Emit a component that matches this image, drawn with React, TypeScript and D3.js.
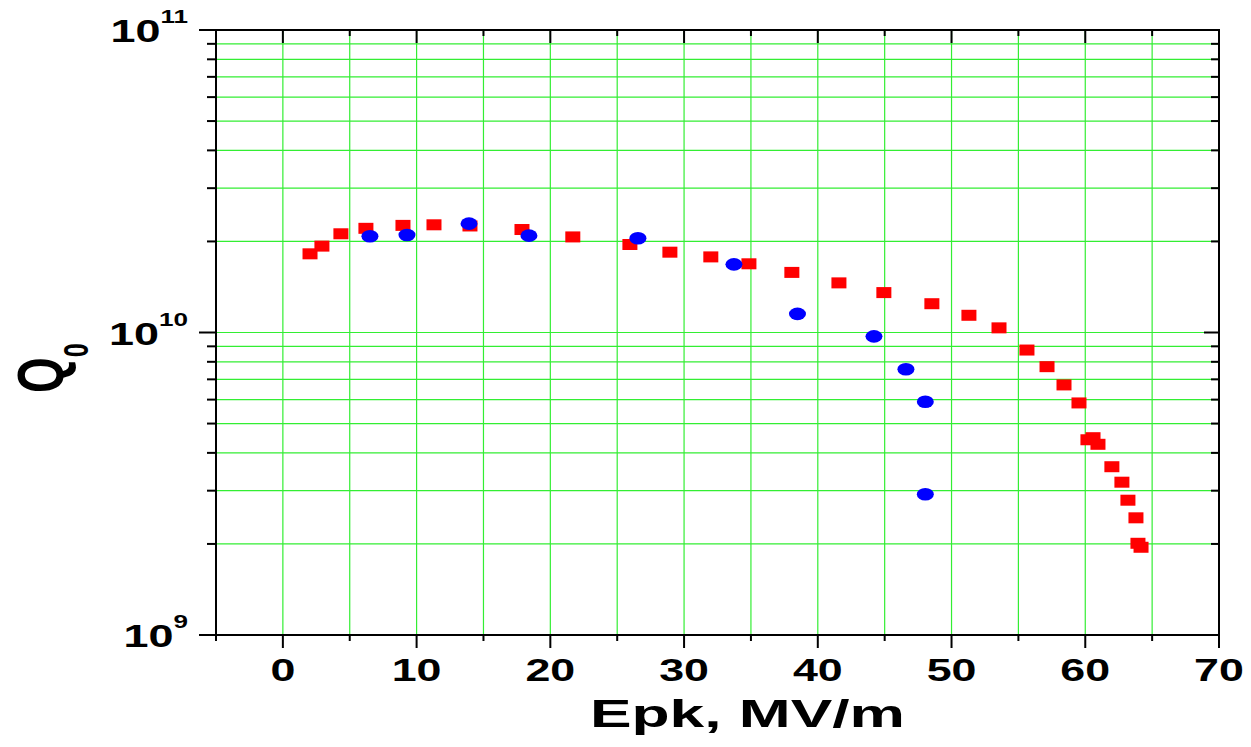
import React from "react";
import * as d3 from "d3";

// Q0 vs peak surface field for two cavity tests
const redE = [2.03, 2.92, 4.34, 6.21, 8.98, 11.3, 13.99, 17.88, 21.68, 25.95, 28.94, 32.0, 34.85, 38.06, 41.58, 44.94, 48.53, 51.3, 53.55, 55.64, 57.14, 58.41, 59.53, 60.2, 60.58, 60.95, 61.99, 62.74, 63.19, 63.79, 63.94, 64.17];
const redQ = [1.82e10, 1.93e10, 2.12e10, 2.21e10, 2.26e10, 2.27e10, 2.25e10, 2.19e10, 2.07e10, 1.954e10, 1.843e10, 1.778e10, 1.687e10, 1.58e10, 1.459e10, 1.355e10, 1.245e10, 1.14e10, 1.036e10, 8.75e9, 7.71e9, 6.71e9, 5.85e9, 4.42e9, 4.49e9, 4.27e9, 3.6e9, 3.2e9, 2.79e9, 2.44e9, 2.01e9, 1.95e9];

const blueE = [6.51, 9.28, 13.92, 18.4, 26.55, 33.73, 38.48, 44.2, 46.59, 48.04, 48.04];
const blueQ = [2.08e10, 2.1e10, 2.29e10, 2.09e10, 2.05e10, 1.68e10, 1.152e10, 9.71e9, 7.56e9, 5.9e9, 2.92e9];

const xMajorTicks = [0, 10, 20, 30, 40, 50, 60, 70];
const xMinorTicks = [-5, 5, 15, 25, 35, 45, 55, 65];
const xTickLabels = ["0", "10", "20", "30", "40", "50", "60", "70"];
const yExponents = [9, 10, 11];
const yMinorMultipliers = [2, 3, 4, 5, 6, 7, 8, 9];

const xTitle = "Epk, MV/m";
const yTitle = "Q";
const yTitleSub = "0";

const W = 1251;
const H = 747;
const plot = { left: 216, right: 1219, top: 30, bottom: 635 };
const FONT = "'Liberation Sans', Arial, Helvetica, sans-serif";
const GRID = "#33ee33";

export default function App() {
  const x = d3.scaleLinear().domain([-5, 70]).range([plot.left, plot.right]);
  const y = d3.scaleLog().domain([1e9, 1e11]).range([plot.bottom, plot.top]);

  const yMajor = yExponents.map((e) => Math.pow(10, e));
  const yMinor: number[] = [];
  [9, 10].forEach((e) => yMinorMultipliers.forEach((m) => yMinor.push(m * Math.pow(10, e))));

  const xGrid = [...xMajorTicks, ...xMinorTicks].filter((v) => v > -5 && v < 70);
  const yGrid = [...yMinor, 1e10];

  return (
    <svg
      width={W}
      height={H}
      viewBox={`0 0 ${W} ${H}`}
      style={{ position: "absolute", left: 0, top: 0, background: "#fff" }}
      fontFamily={FONT}
    >
      <rect width={W} height={H} fill="#fff" />

      {/* grid */}
      <g stroke={GRID} strokeWidth={1.2}>
        {xGrid.map((v) => (
          <line key={"gx" + v} x1={x(v)} x2={x(v)} y1={plot.top} y2={plot.bottom} />
        ))}
        {yGrid.map((v) => (
          <line key={"gy" + v} x1={plot.left} x2={plot.right} y1={y(v)} y2={y(v)} />
        ))}
      </g>

      {/* series: squares */}
      <g fill="#ff0000">
        {redE.map((e, i) => (
          <rect key={"r" + i} x={x(e) - 7.5} y={y(redQ[i]) - 5.5} width={15} height={11} />
        ))}
      </g>
      {/* series: circles */}
      <g fill="#0000ff">
        {blueE.map((e, i) => (
          <ellipse key={"b" + i} cx={x(e)} cy={y(blueQ[i])} rx={8.5} ry={6.3} />
        ))}
      </g>

      {/* frame */}
      <g stroke="#000" strokeWidth={2} fill="none">
        <rect x={plot.left} y={plot.top} width={plot.right - plot.left} height={plot.bottom - plot.top} />
        {/* bottom ticks: outward */}
        {xMajorTicks.map((v) => (
          <line key={"bt" + v} x1={x(v)} x2={x(v)} y1={plot.bottom} y2={plot.bottom + 13} />
        ))}
        {xMinorTicks.map((v) => (
          <line key={"btm" + v} x1={x(v)} x2={x(v)} y1={plot.bottom} y2={plot.bottom + 6} />
        ))}
        {/* top ticks: inward */}
        {xMajorTicks.map((v) => (
          <line key={"tt" + v} x1={x(v)} x2={x(v)} y1={plot.top} y2={plot.top + 13} />
        ))}
        {xMinorTicks.map((v) => (
          <line key={"ttm" + v} x1={x(v)} x2={x(v)} y1={plot.top} y2={plot.top + 6} />
        ))}
        {/* left ticks: outward */}
        {yMajor.map((v) => (
          <line key={"lt" + v} x1={plot.left - 17} x2={plot.left} y1={y(v)} y2={y(v)} />
        ))}
        {yMinor.map((v) => (
          <line key={"ltm" + v} x1={plot.left - 9} x2={plot.left} y1={y(v)} y2={y(v)} />
        ))}
        {/* right ticks: inward */}
        {yMajor.map((v) => (
          <line key={"rt" + v} x1={plot.right - 15} x2={plot.right} y1={y(v)} y2={y(v)} />
        ))}
        {yMinor.map((v) => (
          <line key={"rtm" + v} x1={plot.right - 8} x2={plot.right} y1={y(v)} y2={y(v)} />
        ))}
      </g>

      {/* x tick labels */}
      <g fontWeight="bold" fontSize={32} fill="#000" textAnchor="middle">
        {xMajorTicks.map((v, i) => (
          <text key={"xl" + v} transform={`translate(${x(v)},681) scale(1.4,1)`}>
            {xTickLabels[i]}
          </text>
        ))}
      </g>

      {/* y tick labels */}
      <g fontWeight="bold" fill="#000" textAnchor="end">
        {yExponents.map((e) => (
          <text key={"yl" + e} transform={`translate(188,${y(Math.pow(10, e)) + 12}) scale(1.45,1)`} fontSize={31}>
            10
            <tspan dy={-19} fontSize={18}>
              {e}
            </tspan>
          </text>
        ))}
      </g>

      {/* axis titles */}
      <text
        x={590}
        y={727}
        fontSize={38}
        fontWeight="bold"
        textLength={315}
        lengthAdjust="spacingAndGlyphs"
      >
        {xTitle}
      </text>
      <text transform="translate(63,393) scale(1.4,1) rotate(-90)" fontWeight="bold" fontSize={46}>
        {yTitle}
        <tspan dy={18} fontSize={25}>
          {yTitleSub}
        </tspan>
      </text>
    </svg>
  );
}
